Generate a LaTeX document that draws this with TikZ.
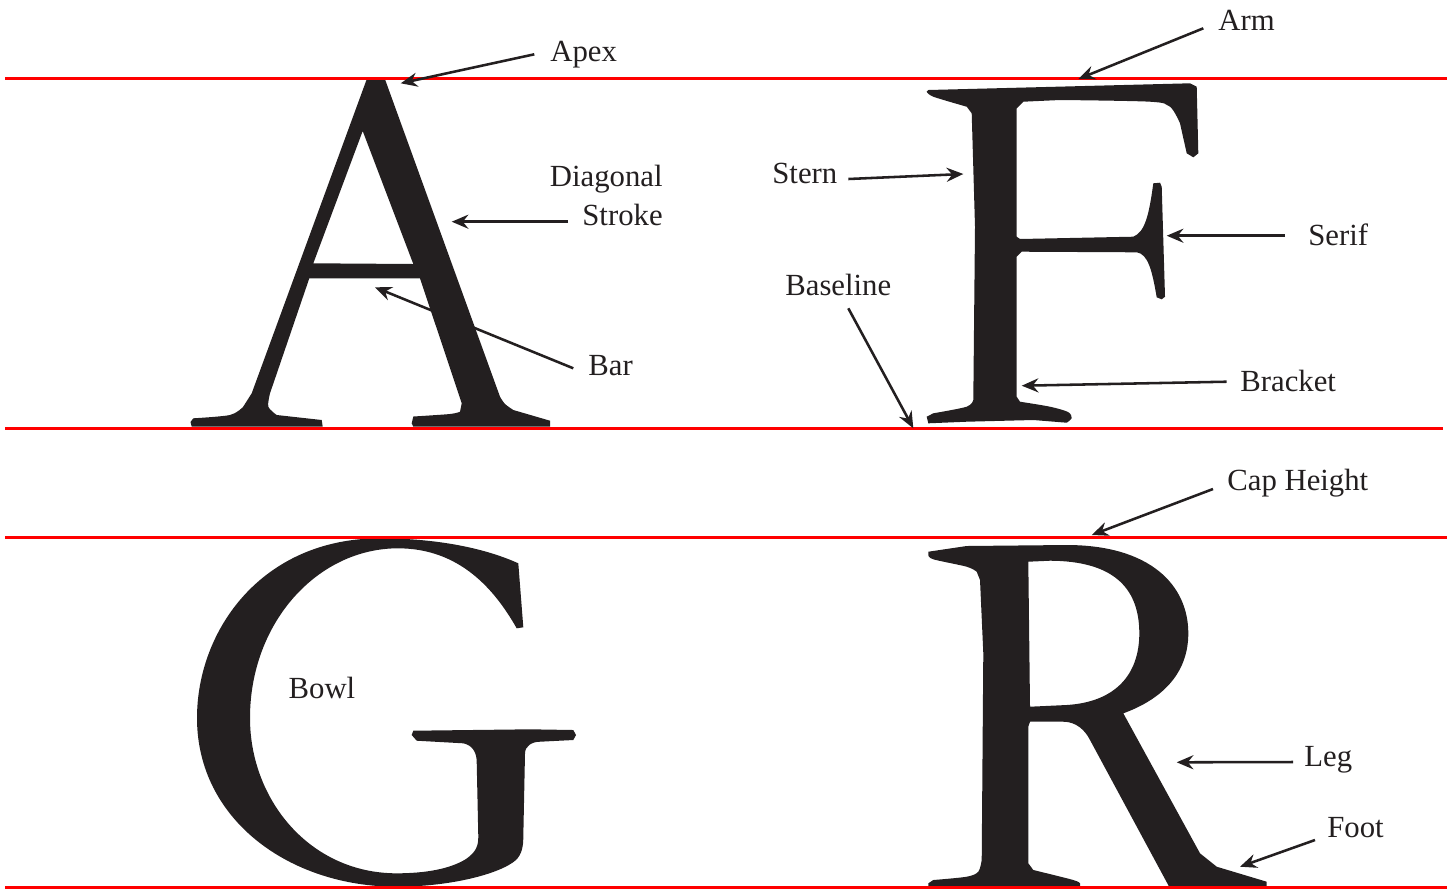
\documentclass[tikz,border=0pt]{standalone}
\usepackage{fontspec}
\setmainfont{Liberation Serif}
\usetikzlibrary{arrows.meta}
\definecolor{ink}{HTML}{231F20}
\begin{document}
\begin{tikzpicture}[x=0.02cm,y=-0.02cm,
  lbl/.style={inner sep=0pt,text=ink,font=\fontsize{17.5}{20}\selectfont},
  arr/.style={draw=ink,line width=1.45pt,-{Stealth[length=9.5pt,width=8pt,inset=3.2pt]}},
  guide/.style={draw=red,line width=1.7pt},
  glyph/.style={fill=ink,even odd rule}]
\useasboundingbox (0,0) rectangle (1452,890);

% ---------- letter A
\fill[glyph] (191.7,426.7) -- (322.7,426.7) -- (321.7,420)
  -- plot[smooth] coordinates {(276.7,415)(268.3,406.7)(270,393.3)}
  -- (309.3,278.3) -- (420,278.3) -- (461.7,403.3)
  -- plot[smooth] coordinates {(460,411.7)(450,414)(413.3,416.5)}
  -- (411.7,423.3) -- (413.3,426.7) -- (550,426.7) -- (550,420.7)
  -- plot[smooth] coordinates {(513.3,410)(505,404)(500,396.7)}
  -- (385,79.3) -- (366.7,79.3) -- (251.7,393.3)
  -- plot[smooth] coordinates {(243,407)(230,415)(193.3,418.3)}
  -- (190.5,422) -- cycle
  (362.7,131) -- (413.3,264) -- (313.3,263.3) -- cycle;

% ---------- letter F
\fill[glyph] (928.3,90) -- (1190,83.3) -- (1196.7,86.7) -- (1198.3,153.3)
  -- (1193.3,157.3) -- (1186.7,153.3)
  -- plot[smooth] coordinates {(1180,123.3)(1170,106.7)(1150,101.7)(1060,100)}
  -- (1023.3,101.7) -- (1016.7,108.3) -- (1016.7,236.7) -- (1020,239)
  -- (1133.3,236.7)
  .. controls (1145,232) and (1149,215) .. (1153.3,183.3)
  -- (1160,182.7) -- (1161.7,186.7) -- (1165,296.7) -- (1161.7,299.3) -- (1156.7,297.3)
  .. controls (1152,270) and (1148,254) .. (1136.7,252.3)
  -- (1021.7,251.7) -- (1016.7,256.7) -- (1016.7,396.7)
  -- plot[smooth] coordinates {(1020,401.7)(1050,406.7)(1068,412)(1071.7,418)(1066.7,422.7)}
  -- (1033.3,420) -- (966.7,421.7) -- (928.3,423.3) -- (926.7,416.7)
  -- plot[smooth] coordinates {(933.3,413.3)(966.7,406.7)(973.3,400)}
  -- (975,226.7) -- (971.7,113.3)
  -- plot[smooth] coordinates {(966.7,106.7)(933.3,96.7)(926.7,91.7)}
  -- cycle;

% ---------- letter G
\fill[glyph] (518.3,563.3)
  .. controls (480,546) and (430,538.3) .. (380,538.3)
  .. controls (262,538.3) and (197,630) .. (197,718)
  .. controls (197,820) and (290,886.7) .. (396.7,886.7)
  .. controls (450,886.7) and (500,874) .. (516,860)
  .. controls (522,854) and (523.3,846) .. (523.3,836.7)
  -- (525,753.3)
  .. controls (525,746) and (532,741.7) .. (540,741.7)
  -- (573.3,740) -- (576,735) -- (573.3,730) -- (530,729.3) -- (413.3,730.7)
  -- (411.7,735) -- (416.7,740.7) -- (463.3,743.3)
  .. controls (472,745) and (476.7,752) .. (476.7,762)
  -- (478.3,836.7)
  .. controls (478.3,846) and (476,852) .. (466,859)
  .. controls (450,869) and (425,873.3) .. (396.7,873.3)
  .. controls (310,873.3) and (250,800) .. (250,718)
  .. controls (250,622) and (318,548.3) .. (398,548.3)
  .. controls (460,548.3) and (495,590) .. (516.7,628.3)
  -- (523.3,627.3) -- cycle;

% ---------- letter R
\fill[glyph] (966.7,546) -- (1066.7,545)
  .. controls (1150,545) and (1188.3,585) .. (1188.3,633.3)
  .. controls (1188.3,675) and (1160,700) .. (1123.3,713.3)
  -- (1200,853.3)
  -- plot[smooth] coordinates {(1216.7,866.7)(1250,876.7)(1266.7,881.7)}
  -- (1266.7,888.3) -- (1170,888.3) -- (1090,740)
  .. controls (1085,730) and (1076,721.7) .. (1063.3,721.7)
  -- (1030,721.7) -- (1028.3,726.7) -- (1028.3,863.3)
  -- plot[smooth] coordinates {(1033.3,870)(1073.3,880)(1080,883.3)}
  -- (1080,888.3) -- (928.3,888.3) -- (928.3,883.3)
  -- plot[smooth] coordinates {(933.3,880)(966.7,876.7)(978.3,871.7)(981.7,860)}
  -- (983.3,653.3) -- (980,580)
  -- plot[smooth] coordinates {(976.7,571.7)(966.7,566.7)(933.3,559.3)(928.3,555)}
  -- (928.3,551.7) -- cycle
  (1028.3,561.7) -- (1030,706.7) -- (1066.7,705)
  .. controls (1115,702) and (1139.3,675) .. (1139.3,633.3)
  .. controls (1139.3,585) and (1110,561) .. (1050,560.7)
  -- cycle;

% ---------- guide lines
\draw[guide] (5,78) -- (1447,78);
\draw[guide] (5,428) -- (1443,428);
\draw[guide] (5,537) -- (1447,537);
\draw[guide] (5,887) -- (1447,887);

% ---------- labels
\node[lbl,anchor=base west] (apex) at (550,61.7) {Apex};
\node[lbl,anchor=base west] (arm) at (1218,30.7) {Arm};
\node[lbl,anchor=base east] (diag) at (663,186) {Diagonal};
\node[lbl,anchor=base east] (stroke) at (663,225) {Stroke};
\node[lbl,anchor=base west] (bar) at (588,375) {Bar};
\node[lbl,anchor=base west] (stern) at (772,183) {Stern};
\node[lbl,anchor=base west] (serif) at (1308,245) {Serif};
\node[lbl,anchor=base west] (baseline) at (785,295) {Baseline};
\node[lbl,anchor=base west] (bracket) at (1240,391) {Bracket};
\node[lbl,anchor=base west] (cap) at (1227,490) {Cap Height};
\node[lbl,anchor=base west] (bowl) at (288.3,698.3) {Bowl};
\node[lbl,anchor=base west] (leg) at (1304,766) {Leg};
\node[lbl,anchor=base west] (foot) at (1327,837) {Foot};

% ---------- arrow end points
\coordinate (apexT) at (534.3,54.3);   \coordinate (apexH) at (400.7,83.3);
\coordinate (armT) at (1203.3,28.3);   \coordinate (armH) at (1078.3,79);
\coordinate (diagT) at (568,221.7);    \coordinate (diagH) at (451.7,221.7);
\coordinate (barT) at (573.3,368.3);   \coordinate (barH) at (375,287.3);
\coordinate (sternT) at (848.3,179);   \coordinate (sternH) at (963.3,174);
\coordinate (serifT) at (1285,235.7);  \coordinate (serifH) at (1166.7,235.7);
\coordinate (baseT) at (848.3,308.3);  \coordinate (baseH) at (913.3,428.3);
\coordinate (bracketT) at (1226.7,381.7); \coordinate (bracketH) at (1021.7,385.7);
\coordinate (capT) at (1213,489);      \coordinate (capH) at (1091.7,535);
\coordinate (legT) at (1293,762);      \coordinate (legH) at (1176.7,762.3);
\coordinate (footT) at (1315,840);     \coordinate (footH) at (1240,866.7);

\draw[arr] (apexT) -- (apexH);
\draw[arr] (armT) -- (armH);
\draw[arr] (diagT) -- (diagH);
\draw[arr] (barT) -- (barH);
\draw[arr] (sternT) -- (sternH);
\draw[arr] (serifT) -- (serifH);
\draw[arr] (baseT) -- (baseH);
\draw[arr] (bracketT) -- (bracketH);
\draw[arr] (capT) -- (capH);
\draw[arr] (legT) -- (legH);
\draw[arr] (footT) -- (footH);
\end{tikzpicture}
\end{document}
